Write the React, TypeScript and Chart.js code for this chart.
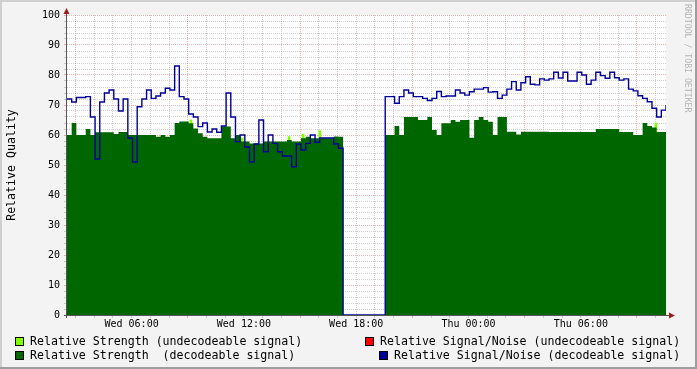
import React, { useEffect, useRef } from "react";
import { Chart, registerables } from "chart.js";
Chart.register(...registerables);

// time axis: hours since Wed 00:00
const START_HOUR = 2.55;
const STEP_HOURS = 0.25;
const SPAN_HOURS = 32;

const STRENGTH_DECODEABLE = [
  60, 64, 60, 60, 62, 60, 60.9, 60.9, 60.9, 60.9,
  60.3, 61, 61, 60, 60, 60, 60, 60, 60, 59.4,
  60, 59.4, 60, 64, 64.5, 64.5, 63.9, 62.2, 60.6, 59.4,
  58.9, 58.9, 58.9, 62.8, 62.8, 58.9, 60, 57.8, 57.8, 57.2,
  57.2, 57.2, 57.8, 57.8, 57.8, 57.8, 57.8, 58.3, 57.8, 57.8,
  58.9, 59.4, 58.9, 58.9, 58.9, 58.9, 58.9, 59.5, 59.4, 0,
  0, 0, 0, 0, 0, 0, 0, 0, 60, 60,
  63, 60, 66, 66, 66, 65, 65, 66, 61.7, 60,
  63.9, 63.9, 65, 64.4, 65, 65, 59.1, 65, 66, 65,
  64.4, 60, 66, 66, 61.1, 61.1, 60.2, 61.1, 61.1, 61.1,
  61.1, 61.1, 61.1, 61, 61, 61, 61, 61, 61, 61,
  61, 61, 61, 62, 62, 62, 62, 62, 61, 61,
  61, 60, 60, 64, 63, 62.5, 61, 61, 61,
];

const SN_DECODEABLE = [
  72, 71, 72.5, 72.5, 72.8, 66, 52, 71, 74, 75,
  72, 68, 72, 59, 51, 69.4, 72, 75, 72.2, 73,
  74, 75.6, 75, 83, 72.8, 72, 67, 66, 62.8, 64,
  61, 62, 60.9, 63, 74, 66, 57.8, 60, 56, 51,
  57, 65, 54.4, 60, 57.2, 54.4, 53, 53, 49.4, 57,
  55, 57.2, 60, 57.6, 59, 59, 59, 57, 55.6, 0,
  0, 0, 0, 0, 0, 0, 0, 0, 72.8, 72.8,
  70.6, 72.8, 75, 74, 72.8, 72.8, 72.2, 71.5, 72.2, 74.5,
  72.8, 73, 73, 75, 74, 73.3, 74.4, 75.3, 75.3, 75.8,
  74.3, 74.4, 72.2, 73.3, 75.3, 77.8, 75, 77.4, 79.4, 76.9,
  76.7, 78.7, 78.3, 78.7, 80.9, 79, 80.9, 78, 78, 80.9,
  80, 76.9, 78.3, 80.9, 79.8, 78.9, 80.9, 79.1, 78.3, 78.7,
  75.3, 74.7, 73.1, 72.2, 71.1, 68.9, 66, 68.3, 70,
];

const STRENGTH_UNDECODEABLE_HOURS = [9.17, 11.9, 14.41, 15.16, 16.06, 34.01];
const STRENGTH_UNDECODEABLE = [65, 59, 59.5, 60.3, 61.5, 64];

const X_LABEL_HOURS = [6, 12, 18, 24, 30];
const X_LABELS = ["Wed 06:00", "Wed 12:00", "Wed 18:00", "Thu 00:00", "Thu 06:00"];
const Y_MIN = 0;
const Y_MAX = 100;
const Y_LABEL_STEP = 10;
const Y_GRID_STEP = 2;

const LABEL_STRENGTH_UNDEC = "Relative Strength (undecodeable signal)";
const LABEL_STRENGTH_DEC = "Relative Strength  (decodeable signal)";
const LABEL_SN_UNDEC = "Relative Signal/Noise (undecodeable signal)";
const LABEL_SN_DEC = "Relative Signal/Noise (decodeable signal)";

const MONO = '"DejaVu Sans Mono", monospace';
const C_LIME = "#80ff00";
const C_GREEN = "#006600";
const C_RED = "#ff0000";
const C_BLUE = "#000099";
const MINOR = "rgba(150,150,150,0.45)";
const MAJOR = "rgba(222,100,100,0.5)";
const AXIS = "#555555";
const ARROW = "#991f1f";

const rrdPlugin = {
  id: "rrd",
  beforeDraw(chart: any) {
    const { ctx, chartArea: a, width, height } = chart;
    ctx.save();
    ctx.fillStyle = "#f3f3f3";
    ctx.fillRect(0, 0, width, height);
    ctx.fillStyle = "#cfcfcf";
    ctx.fillRect(0, 0, width, 2);
    ctx.fillRect(0, 0, 2, height);
    ctx.fillStyle = "#9e9e9e";
    ctx.fillRect(0, height - 2, width, 2);
    ctx.fillRect(width - 2, 0, 2, height);
    ctx.fillStyle = "#ffffff";
    ctx.fillRect(a.left, a.top, a.right - a.left, a.bottom - a.top);
    ctx.restore();
  },
  beforeDatasetsDraw(chart: any) {
    const { ctx, chartArea: a } = chart;
    ctx.save();
    ctx.strokeStyle = AXIS;
    ctx.lineWidth = 1;
    ctx.beginPath();
    ctx.moveTo(a.left - 0.5, a.bottom + 3);
    ctx.lineTo(a.left - 0.5, a.top - 3);
    ctx.moveTo(a.left - 3, a.bottom + 0.5);
    ctx.lineTo(a.right + 4, a.bottom + 0.5);
    ctx.stroke();
    ctx.restore();
  },
  afterDraw(chart: any) {
    const { ctx, chartArea: a } = chart;
    ctx.save();
    ctx.fillStyle = ARROW;
    ctx.beginPath();
    ctx.moveTo(a.left - 3.5, a.top - 1);
    ctx.lineTo(a.left + 2.5, a.top - 1);
    ctx.lineTo(a.left - 0.5, a.top - 7);
    ctx.closePath();
    ctx.fill();
    ctx.beginPath();
    ctx.moveTo(a.right + 3, a.bottom - 2.5);
    ctx.lineTo(a.right + 3, a.bottom + 3.5);
    ctx.lineTo(a.right + 9, a.bottom + 0.5);
    ctx.closePath();
    ctx.fill();
    ctx.restore();
  },
};

export default function App() {
  const ref = useRef<HTMLCanvasElement>(null);
  useEffect(() => {
    const times = SN_DECODEABLE.map((_, i) => START_HOUR + i * STEP_HOURS);
    const xTicks: number[] = [];
    for (let h = Math.ceil(START_HOUR); h < START_HOUR + SPAN_HOURS; h++) xTicks.push(h);
    const chart = new Chart(ref.current as HTMLCanvasElement, {
      type: "line",
      data: {
        datasets: [
          {
            type: "bar",
            label: LABEL_STRENGTH_UNDEC,
            data: STRENGTH_UNDECODEABLE_HOURS.map((t, i) => ({ x: t, y: STRENGTH_UNDECODEABLE[i] })),
            backgroundColor: C_LIME,
            borderWidth: 0,
            barThickness: 2,
            order: 3,
          } as any,
          {
            label: LABEL_STRENGTH_DEC,
            data: times.map((t, i) => ({ x: t, y: STRENGTH_DECODEABLE[i] })),
            stepped: true,
            fill: "origin",
            backgroundColor: C_GREEN,
            borderColor: C_GREEN,
            borderWidth: 0,
            pointRadius: 0,
            order: 2,
          },
          {
            label: LABEL_SN_DEC,
            data: times.map((t, i) => ({ x: t, y: SN_DECODEABLE[i] })),
            stepped: true,
            fill: false,
            borderColor: C_BLUE,
            borderWidth: 1.4,
            pointRadius: 0,
            order: 1,
          },
        ],
      },
      options: {
        animation: false,
        responsive: false,
        devicePixelRatio: 1,
        events: [],
        layout: { padding: { top: 15, right: 31, bottom: 0, left: 0 } },
        plugins: { legend: { display: false }, tooltip: { enabled: false } },
        scales: {
          x: {
            type: "linear",
            min: START_HOUR,
            max: START_HOUR + SPAN_HOURS,
            offset: false,
            afterBuildTicks: (s: any) => {
              s.ticks = xTicks.map((v) => ({ value: v }));
            },
            afterFit: (s: any) => {
              s.height = 54;
            },
            ticks: {
              autoSkip: false,
              maxRotation: 0,
              padding: 0,
              color: "#000",
              font: { family: MONO, size: 10 },
              callback: (v: any) => {
                const k = X_LABEL_HOURS.indexOf(Number(v));
                return k >= 0 ? X_LABELS[k] : "";
              },
            },
            grid: {
              offset: false,
              color: (c: any) => (((c.tick?.value ?? 0) % 6) === 3 ? MAJOR : MINOR),
              tickColor: (c: any) => (((c.tick?.value ?? 0) % 6) === 3 ? MAJOR : MINOR),
              lineWidth: 1,
              tickLength: 3,
              tickBorderDash: [],
            } as any,
            border: { display: false, dash: [1, 1] },
          },
          y: {
            min: Y_MIN,
            max: Y_MAX,
            afterFit: (s: any) => {
              s.width = 67;
            },
            ticks: {
              stepSize: Y_GRID_STEP,
              autoSkip: false,
              padding: 4,
              color: "#000",
              font: { family: MONO, size: 10 },
              callback: (v: any) => (Number(v) % Y_LABEL_STEP === 0 ? String(v) : ""),
            },
            grid: {
              color: (c: any) => ((c.tick?.value ?? 0) % Y_LABEL_STEP === 0 ? MAJOR : MINOR),
              tickColor: (c: any) => ((c.tick?.value ?? 0) % Y_LABEL_STEP === 0 ? MAJOR : MINOR),
              lineWidth: 1,
              tickLength: 3,
              tickBorderDash: [],
            } as any,
            border: { display: false, dash: [1, 1] },
            title: {
              display: true,
              text: "Relative Quality",
              color: "#000",
              font: { family: MONO, size: 11.6 },
              padding: { top: 5, bottom: 0 },
            },
          },
        },
      },
      plugins: [rrdPlugin],
    });
    return () => chart.destroy();
  }, []);

  const txt: React.CSSProperties = {
    position: "absolute",
    fontFamily: MONO,
    fontSize: 11.6,
    lineHeight: "14px",
    whiteSpace: "pre",
    color: "#000",
  };
  const box = (color: string, left: number, top: number): React.CSSProperties => ({
    position: "absolute",
    left,
    top,
    width: 9,
    height: 9,
    boxSizing: "border-box",
    border: "1px solid #000",
    background: color,
  });

  return (
    <div style={{ position: "fixed", left: 0, top: 0, width: 697, height: 369, overflow: "hidden", background: "#f3f3f3" }}>
      <canvas ref={ref} width={697} height={369} style={{ position: "absolute", left: 0, top: 0, width: 697, height: 369 }} />
      <div style={box(C_LIME, 15, 337)} />
      <div style={{ ...txt, left: 30, top: 334 }}>{LABEL_STRENGTH_UNDEC}</div>
      <div style={box(C_GREEN, 15, 351)} />
      <div style={{ ...txt, left: 30, top: 348 }}>{LABEL_STRENGTH_DEC}</div>
      <div style={box(C_RED, 365, 337)} />
      <div style={{ ...txt, left: 380, top: 334 }}>{LABEL_SN_UNDEC}</div>
      <div style={box(C_BLUE, 379, 351)} />
      <div style={{ ...txt, left: 394, top: 348 }}>{LABEL_SN_DEC}</div>
      <div
        style={{
          position: "absolute",
          left: 683,
          top: 4,
          writingMode: "vertical-rl",
          fontFamily: MONO,
          fontSize: 8.2,
          lineHeight: "10px",
          color: "#b4b4b4",
          whiteSpace: "pre",
        }}
      >
        RRDTOOL / TOBI OETIKER
      </div>
    </div>
  );
}
